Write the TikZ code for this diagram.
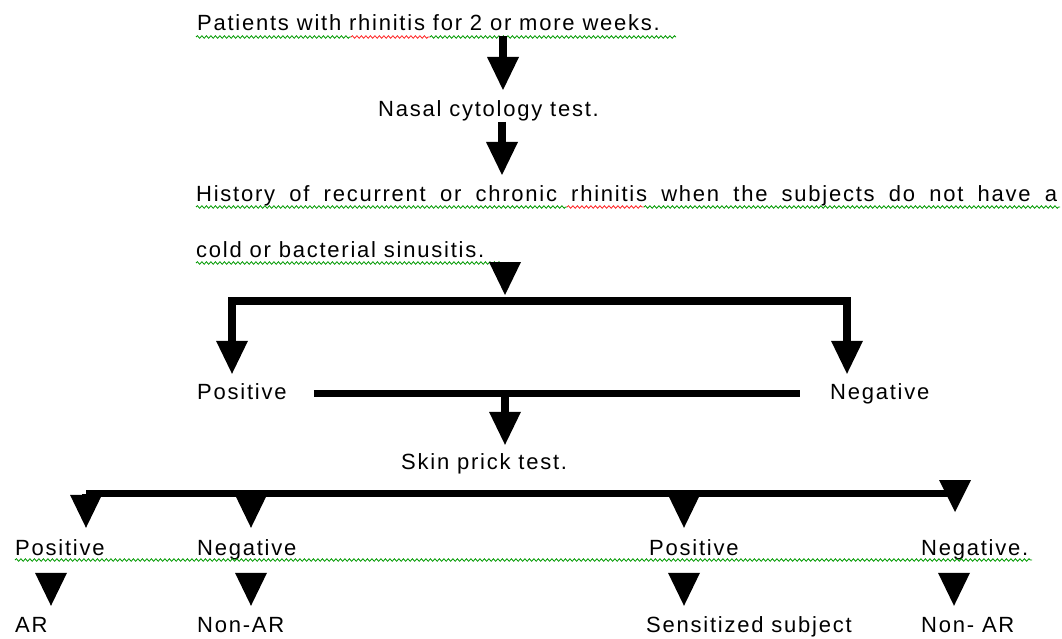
\documentclass[tikz,border=0pt]{standalone}
\usepackage{fontspec}
\setmainfont{Liberation Sans}[LetterSpace=8]
\usetikzlibrary{arrows.meta,decorations.pathmorphing}

\begin{document}
\begin{tikzpicture}[x=1pt, y=-1pt,
    txt/.style={anchor=base west, inner sep=0pt, text height=16pt, text depth=4.7pt,
        font=\fontsize{22pt}{26pt}\selectfont},
    flow/.style={line width=7.5pt, line join=miter,
        -{Triangle[width=32pt, length=33pt, line width=0pt]}},
    bar/.style={line width=7.5pt, line join=miter},
    spell/.style={green!60!black, line width=0.8pt, decorate,
        decoration={snake, segment length=4.5pt, amplitude=1.3pt}},
    typo/.style={spell, red!85!white}]

    % Page size
    \useasboundingbox (0,0) rectangle (1062,639);

    % Text lines
    \node[txt] (patients) at (197,31) {Patients with rhinitis for 2 or more weeks.};
    \node[txt] (nasal) at (378,117) {Nasal cytology test.};
    \node[txt] (history) at (196,201)
        {\makebox[861pt][s]{History of recurrent or chronic rhinitis when the subjects do not have a}};
    \node[txt] (cold) at (196,257) {cold or bacterial sinusitis.};
    \node[txt] (pos1) at (197,399) {Positive};
    \node[txt] (neg1) at (830,399) {Negative};
    \node[txt] (skin) at (401,469) {Skin prick test.};
    \node[txt] (pos2) at (15,555) {Positive};
    \node[txt] (neg2) at (197,555) {Negative};
    \node[txt] (pos3) at (649,555) {Positive};
    \node[txt] (neg3) at (921,555) {Negative.};
    \node[txt] (ar) at (15,632) {AR};
    \node[txt] (nonar) at (197,632) {Non-AR};
    \node[txt] (sens) at (646,632) {Sensitized subject};
    \node[txt] (nonartwo) at (921,632) {Non- AR};

    % Spell check marks
    \draw[spell] (196,37) -- (351,37);
    \draw[typo] (351,37) -- (430,37);
    \draw[spell] (430,37) -- (676,37);
    \draw[spell] (196,207) -- (567,207);
    \draw[typo] (567,207) -- (644,207);
    \draw[spell] (644,207) -- (1060,207);
    \draw[spell] (196,263) -- (502,263);
    \draw[spell] (15,560) -- (1032,560);

    % Junctions
    \coordinate (a1) at (503,90);
    \coordinate (a2) at (502,175);
    \coordinate (a3) at (505,295);
    \coordinate (b1l) at (232,301);
    \coordinate (b1r) at (847,301);
    \coordinate (j2) at (505,393);
    \coordinate (b2l) at (86,493.5);
    \coordinate (b2r) at (955,493.5);

    % Main column
    \draw[flow] (patients.south -| a1) -- (a1);
    \draw[flow] (nasal.south -| a2) -- (a2);
    \draw[flow] (cold.south -| a3) -- (a3);

    % First split
    \draw[flow] (b1r) -- (b1l) -- ([yshift=9pt]pos1.north -| b1l);
    \draw[flow] (b1l) -- (b1r) -- ([yshift=9pt]neg1.north -| b1r);
    \draw[bar] ([xshift=27pt]pos1.east) -- ([xshift=-30pt]neg1.west);
    \draw[flow] (j2) -- ([yshift=8pt]skin.north -| j2);

    % Second split
    \draw[bar] (b2l) -- (b2r);
    \draw[flow] (b2l) -- ([yshift=11pt]pos2.north -| b2l);
    \draw[flow] (b2l -| 251,0) -- ([yshift=11pt]neg2.north -| 251,0);
    \draw[flow] (b2l -| 684,0) -- ([yshift=11pt]pos3.north -| 684,0);
    \fill (939,480) -- (971,480) -- (955,512) -- cycle;

    % Last heads
    \foreach \src/\dst/\x in {pos2/ar/51, neg2/nonar/251, pos3/sens/684, neg3/nonartwo/954}
        \draw[flow, shorten <=13.5pt, shorten >=10pt] (\src.south -| \x,0) -- (\dst.north -| \x,0);

\end{tikzpicture}
\end{document}
